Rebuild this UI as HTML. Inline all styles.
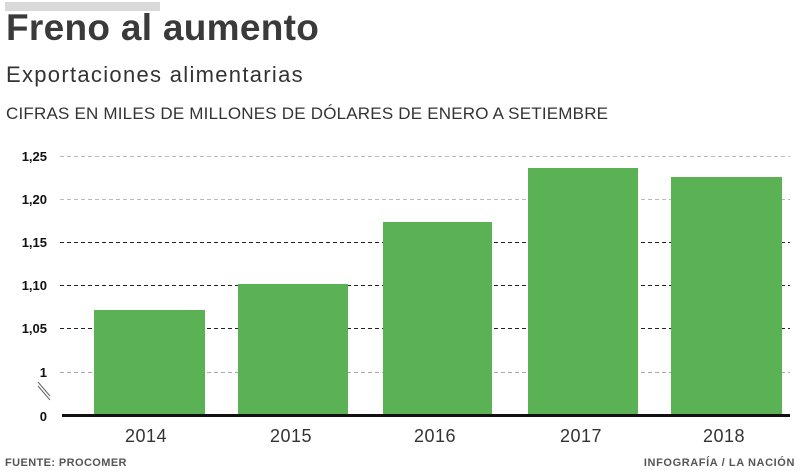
<!DOCTYPE html>
<html><head><meta charset="utf-8"><style>
body{margin:0;width:800px;height:471px;background:#fff;overflow:hidden;font-family:"Liberation Sans",sans-serif;position:relative}
div,span{position:absolute;white-space:nowrap}
</style></head><body>
<div style="left:5px;top:2px;width:155px;height:9px;background:#d9d9d9"></div>
<div style="left:6px;top:7px;font-size:37px;font-weight:bold;color:#3a3a3a;letter-spacing:0.3px">Freno al aumento</div>
<div style="left:6px;top:62px;font-size:22px;color:#333;letter-spacing:1.3px">Exportaciones alimentarias</div>
<div style="left:6px;top:104px;font-size:17px;color:#333;letter-spacing:0.2px">CIFRAS EN MILES DE MILLONES DE DÓLARES DE ENERO A SETIEMBRE</div>
<svg width="800" height="471" style="position:absolute;left:0;top:0">
<g stroke="#555" stroke-width="1" stroke-dasharray="4,3">
<line x1="60" x2="790" y1="156.5" y2="156.5" stroke="#bbb"/>
<line x1="60" x2="790" y1="199.5" y2="199.5" stroke="#bbb"/>
<line x1="60" x2="790" y1="242.5" y2="242.5" stroke="#222"/>
<line x1="60" x2="790" y1="285.5" y2="285.5" stroke="#222"/>
<line x1="60" x2="790" y1="328.5" y2="328.5" stroke="#222"/>
<line x1="60" x2="790" y1="372.5" y2="372.5" stroke="#aaa"/>
</g>
<g font-family="Liberation Sans" font-weight="bold" font-size="13" fill="#111" text-anchor="end">
<text x="47" y="161">1,25</text><text x="47" y="204">1,20</text><text x="47" y="247">1,15</text>
<text x="47" y="290">1,10</text><text x="47" y="333">1,05</text><text x="47" y="377">1</text><text x="47" y="421">0</text>
</g>
<line x1="38" y1="382" x2="50" y2="396" stroke="#666"/><line x1="38" y1="386" x2="50" y2="400" stroke="#666"/>
<g fill="#5bb254">
<rect x="94" y="310" width="111" height="105"/>
<rect x="238" y="284" width="110" height="131"/>
<rect x="383" y="222" width="109" height="193"/>
<rect x="528" y="168" width="110" height="247"/>
<rect x="671" y="177" width="111" height="238"/>
</g>
<rect x="62" y="414" width="728" height="3" fill="#111"/>
<g font-family="Liberation Sans" font-size="18" fill="#333" text-anchor="middle" letter-spacing="0.5">
<text x="146" y="442">2014</text><text x="291" y="442">2015</text><text x="435" y="442">2016</text><text x="581" y="442">2017</text><text x="724" y="442">2018</text>
</g>
<text x="5" y="466" font-family="Liberation Sans" font-weight="bold" font-size="11" fill="#555" letter-spacing="0.4">FUENTE: PROCOMER</text>
<text x="795" y="466" text-anchor="end" font-family="Liberation Sans" font-weight="bold" font-size="11" fill="#555" letter-spacing="0.6">INFOGRAFÍA / LA NACIÓN</text>
</svg>
</body></html>
